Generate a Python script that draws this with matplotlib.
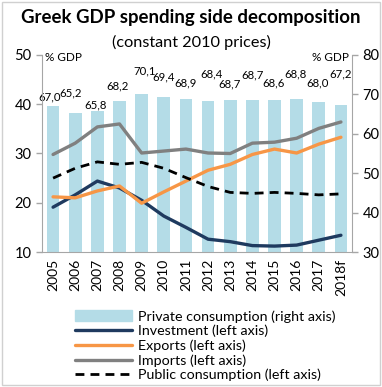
import matplotlib
matplotlib.use("Agg")
from matplotlib import pyplot as plt
from matplotlib.patches import Rectangle
from matplotlib.lines import Line2D
from matplotlib.patches import Patch

years = ['2005', '2006', '2007', '2008', '2009', '2010', '2011',
         '2012', '2013', '2014', '2015', '2016', '2017', '2018f']
private_consumption = [67.0, 65.2, 65.8, 68.2, 70.1, 69.4, 68.9,
                       68.4, 68.7, 68.7, 68.6, 68.8, 68.0, 67.2]
investment = [19.1, 21.6, 24.4, 23.0, 20.5, 17.3, 15.0,
              12.6, 12.1, 11.3, 11.2, 11.4, 12.4, 13.4]
exports = [21.2, 21.0, 22.4, 23.4, 19.9, 22.2, 24.4,
           26.6, 27.8, 29.8, 30.9, 30.1, 31.9, 33.3]
imports = [29.8, 32.1, 35.4, 36.0, 30.1, 30.5, 30.9,
           30.1, 30.0, 32.1, 32.3, 33.1, 35.1, 36.4]
public_consumption = [25.0, 27.0, 28.3, 27.8, 28.2, 27.0, 25.1,
                      23.3, 22.1, 21.9, 22.1, 21.9, 21.6, 21.8]

# pixel offsets of the bar value labels (x, y)
label_offsets = [(-3, 9), (-5, 20), (-2, 6), (-2, 16), (3, 23), (0, 20), (0, 16),
                 (3, 27), (-1, 16), (0, 25), (-1, 17), (-1, 25), (-1, 19), (0, 32)]

plt.rcParams['font.family'] = ['Lato', 'DejaVu Sans']

fig = plt.figure(figsize=(3.82, 3.87), dpi=100)
fig.patches.append(Rectangle((0.006, 0.006), 0.988, 0.99, transform=fig.transFigure,
                             fill=False, edgecolor='#d0d0d0', linewidth=1))

ax = fig.add_axes([42 / 382, 1 - 252 / 387, 310 / 382, 197 / 387])
ax2 = ax.twinx()
ax.set_zorder(ax2.get_zorder() + 1)
ax.patch.set_visible(False)

x = list(range(len(years)))
bar_color = '#b4dce7'
ax2.bar(x, private_consumption, width=0.57, color=bar_color)
for i, v in enumerate(private_consumption):
    ax2.annotate(f'{v:.1f}'.replace('.', ','), (i, v), xytext=label_offsets[i],
                 textcoords='offset pixels', ha='center', va='center', fontsize=8.2)
ax2.set_ylim(30, 80)
ax2.set_yticks(range(30, 81, 10))

ax.plot(x, investment, color='#1f3a5f', lw=2.4, solid_joinstyle='round', solid_capstyle='round')
ax.plot(x, exports, color='#f79646', lw=2.4, solid_joinstyle='round', solid_capstyle='round')
ax.plot(x, imports, color='#808080', lw=2.4, solid_joinstyle='round', solid_capstyle='round')
ax.plot(x, public_consumption, color='black', lw=2.0, dashes=(3.2, 2.2))
ax.set_ylim(10, 50)
ax.set_yticks(range(10, 51, 10))
ax.set_xlim(-0.5, len(years) - 0.5)
ax.set_xticks(x)
ax.set_xticklabels(years, rotation=90, fontsize=10)

for a in (ax, ax2):
    a.spines['top'].set_visible(False)
    for s in ('left', 'right', 'bottom'):
        a.spines[s].set_color('#a6a6a6')
    a.tick_params(axis='y', labelsize=10.5, color='#a6a6a6', length=4, width=1)
    a.tick_params(axis='x', length=0, pad=5)
ax.spines['right'].set_visible(False)
ax2.spines['left'].set_visible(False)
ax2.spines['bottom'].set_visible(False)

ax.text(0.01, 0.985, '% GDP', transform=ax.transAxes, ha='left', va='center', fontsize=8.5)
ax.text(0.99, 0.985, '% GDP', transform=ax.transAxes, ha='right', va='center', fontsize=8.5)

fig.text(0.5, 1 - 17 / 387, 'Greek GDP spending side decomposition',
         ha='center', va='center', fontsize=13.4, fontweight='bold')
fig.text(0.5, 1 - 42 / 387, '(constant 2010 prices)', ha='center', va='center', fontsize=11.7)

handles = [
    Patch(color=bar_color),
    Line2D([], [], color='#1f3a5f', lw=2.4, solid_capstyle='round'),
    Line2D([], [], color='#f79646', lw=2.4, solid_capstyle='round'),
    Line2D([], [], color='#808080', lw=2.4, solid_capstyle='round'),
    Line2D([], [], color='black', lw=2.0, dashes=(3.2, 2.2)),
]
labels = ['Private consumption (right axis)', 'Investment (left axis)',
          'Exports (left axis)', 'Imports (left axis)', 'Public consumption (left axis)']
fig.legend(handles, labels, loc='upper left', bbox_to_anchor=(68 / 382, 1 - 303 / 387),
           frameon=False, fontsize=10.3, handlelength=4.0, handleheight=0.8,
           labelspacing=0.15, handletextpad=0.4, borderpad=0)

fig.savefig('out.png', dpi=100)
